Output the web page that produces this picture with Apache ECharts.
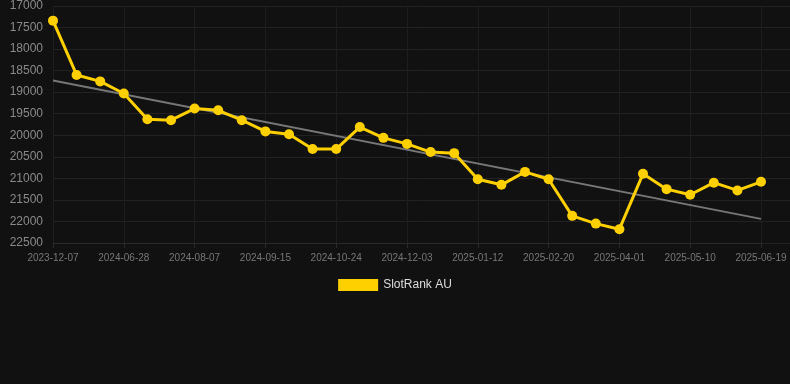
<!DOCTYPE html>
<html>
<head>
<meta charset="utf-8">
<script src="https://cdn.jsdelivr.net/npm/echarts@6/dist/echarts.min.js"></script>
<style>
html,body{margin:0;padding:0;background:#111111;}
#c{width:790px;height:384px;}
</style>
</head>
<body>
<div id="c"></div>
<script>
var categories = ["2023-12-07","2024-06-02","2024-06-15","2024-06-28","2024-07-11","2024-07-24","2024-08-07","2024-08-20","2024-09-02","2024-09-15","2024-09-28","2024-10-11","2024-10-24","2024-11-06","2024-11-19","2024-12-03","2024-12-16","2024-12-29","2025-01-12","2025-01-25","2025-02-07","2025-02-20","2025-03-05","2025-03-18","2025-04-01","2025-04-14","2025-04-27","2025-05-10","2025-05-23","2025-06-05","2025-06-19"];
var rankValues = [17340,18600,18750,19030,19630,19650,19380,19420,19650,19910,19975,20320,20320,19810,20060,20200,20390,20415,21020,21150,20850,21020,21870,22050,22180,20895,21250,21380,21100,21280,21080];
var trendStart = 18730;
var trendEnd = 21940;
var yTicks = [17000,17500,18000,18500,19000,19500,20000,20500,21000,21500,22000,22500];

var trendData = categories.map(function(c,i){
  if (i === 0) return trendStart;
  if (i === categories.length - 1) return trendEnd;
  return null;
});

var font = 'Liberation Sans, Arial, sans-serif';
var chart = echarts.init(document.getElementById('c'), null, {renderer:'canvas'});
chart.setOption({
  backgroundColor: '#111111',
  animation: false,
  grid: [
    {left: 53, right: 29, top: 6, bottom: 141, containLabel: false},
    {left: 53, right: 0, top: 6, bottom: 141, containLabel: false}
  ],
  legend: {
    data: ['SlotRank AU'],
    bottom: 88,
    left: 'center',
    itemWidth: 40,
    itemHeight: 12,
    icon: 'rect',
    textStyle: {color: '#dddddd', fontSize: 12, fontFamily: font}
  },
  xAxis: [
    {
      type: 'category',
      gridIndex: 0,
      data: categories,
      boundaryGap: false,
      axisLine: {show: true, lineStyle: {color: '#2a2a2a'}},
      axisTick: {show: true, interval: 2, lineStyle: {color: '#2a2a2a'}},
      axisLabel: {interval: 2, color: '#777777', fontSize: 10, margin: 10, fontFamily: font},
      splitLine: {show: true, interval: 2, lineStyle: {color: '#1e1e1e'}}
    },
    {
      type: 'value',
      gridIndex: 1,
      min: 0, max: 1,
      show: false
    }
  ],
  yAxis: [
    {
      type: 'value',
      gridIndex: 0,
      inverse: true,
      min: yTicks[0],
      max: yTicks[yTicks.length - 1],
      interval: 500,
      axisLine: {show: false},
      axisTick: {show: false},
      axisLabel: {color: '#8a8a8a', fontSize: 12, margin: 10, fontFamily: font, formatter: function(v){ return String(v); }},
      splitLine: {show: false}
    },
    {
      type: 'value',
      gridIndex: 1,
      inverse: true,
      min: yTicks[0],
      max: yTicks[yTicks.length - 1],
      interval: 500,
      axisLine: {show: false},
      axisTick: {show: false},
      axisLabel: {show: false},
      splitLine: {show: true, lineStyle: {color: '#222222'}}
    }
  ],
  series: [
    {
      name: 'SlotRank AU',
      type: 'line',
      xAxisIndex: 0, yAxisIndex: 0,
      data: rankValues,
      color: '#ffd000',
      lineStyle: {color: '#ffd000', width: 3},
      itemStyle: {color: '#ffd000'},
      symbol: 'circle',
      symbolSize: 10,
      showSymbol: true,
      z: 3
    },
    {
      name: 'trend',
      type: 'line',
      xAxisIndex: 0, yAxisIndex: 0,
      data: trendData,
      connectNulls: true,
      symbol: 'none',
      lineStyle: {color: '#777777', width: 2},
      z: 2
    }
  ]
});
</script>
</body>
</html>
